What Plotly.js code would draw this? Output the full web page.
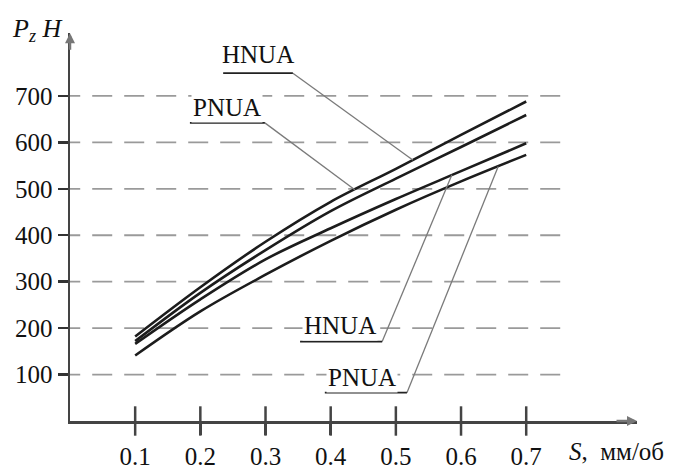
<!DOCTYPE html>
<html>
<head>
<meta charset="utf-8">
<script src="https://cdn.plot.ly/plotly-3.0.1.min.js"></script>
<style>html,body{margin:0;padding:0;background:#fff;}#chart{width:674px;height:469px;}</style>
</head>
<body>
<div id="chart"></div>
<script>
// Feed S, mm/rev
var feed = [0.1, 0.2, 0.3, 0.4, 0.5, 0.6, 0.7];
// Cutting force Pz, N (four curves, top to bottom)
var curveA = [182, 288, 386, 472, 543, 616, 688];
var curveB = [172, 276, 368, 452, 522, 590, 659];
var curveC = [166, 262, 348, 415, 478, 538, 598];
var curveD = [141, 236, 315, 388, 455, 516, 573];
// Tick values / labels
var xTicks = [0.1, 0.2, 0.3, 0.4, 0.5, 0.6, 0.7];
var xTickText = ['0.1', '0.2', '0.3', '0.4', '0.5', '0.6', '0.7'];
var yTicks = [100, 200, 300, 400, 500, 600, 700];
var yTickText = ['100', '200', '300', '400', '500', '600', '700'];
// Curve labels
var labelText = ['HNUA', 'PNUA', 'HNUA', 'PNUA'];

var serif = 'Times New Roman, Liberation Serif, DejaVu Serif, serif';
var curveColor = '#1c1c1c';
var axisColor = '#444';

function curve(y) {
  return {x: feed, y: y, type: 'scatter', mode: 'lines',
    line: {color: curveColor, width: 2.6, shape: 'spline', smoothing: 1},
    hoverinfo: 'skip', showlegend: false};
}

var traces = [curve(curveA), curve(curveB), curve(curveC), curve(curveD),
  {x: xTicks, y: xTicks.map(function(){return 0;}), type: 'scatter', mode: 'markers',
   marker: {symbol: 'line-ns', size: 21, line: {color: axisColor, width: 2.5}},
   cliponaxis: false, hoverinfo: 'skip', showlegend: false}];

// label layout (positions in data units): text centre, underline start/end, leader end on curve
var labelLayout = [
  {tx: 0.288, ty: 790, ux0: 0.235, ux1: 0.342, uy: 749, ex: 0.526, ey: 562},
  {tx: 0.241, ty: 676, ux0: 0.184, ux1: 0.299, uy: 642, ex: 0.437, ey: 498},
  {tx: 0.414, ty: 205, ux0: 0.353, ux1: 0.479, uy: 171, ex: 0.586, ey: 530},
  {tx: 0.448, ty: 94,  ux0: 0.391, ux1: 0.517, uy: 61,  ex: 0.657, ey: 548}
];

var shapes = [];
yTicks.forEach(function(v){
  shapes.push({type: 'line', xref: 'x', yref: 'y', x0: -0.015, x1: 0.764, y0: v, y1: v,
    line: {color: '#9a9a9a', width: 1.8, dash: '20px,12px'}, layer: 'below'});
});
var annotations = [];
labelLayout.forEach(function(p, i){
  shapes.push({type: 'line', xref: 'x', yref: 'y', x0: p.ux1, y0: p.uy, x1: p.ex, y1: p.ey,
    line: {color: '#7a7a7a', width: 1.3}});
  annotations.push({xref: 'x', yref: 'y', x: p.tx, y: p.ty, text: labelText[i], showarrow: false,
    font: {family: serif, size: 25, color: '#111'}, bgcolor: 'white', borderpad: 1,
    xanchor: 'center', yanchor: 'middle'});
  shapes.push({type: 'line', xref: 'x', yref: 'y', x0: p.ux0, y0: p.uy, x1: p.ux1, y1: p.uy,
    line: {color: '#222', width: 1.8}});
});

// axis arrows
annotations.push({xref: 'x', yref: 'y', x: 0.87, y: 0, ax: -22, ay: 0, text: '', showarrow: true,
  arrowhead: 2, arrowsize: 0.8, arrowwidth: 2.5, arrowcolor: '#777'});
annotations.push({xref: 'x', yref: 'y', x: 0, y: 835, ax: 0, ay: 18, text: '', showarrow: true,
  arrowhead: 2, arrowsize: 0.8, arrowwidth: 2.5, arrowcolor: '#777'});
// axis titles
annotations.push({xref: 'paper', yref: 'paper', x: -0.058, y: 1.008, xanchor: 'center', yanchor: 'middle',
  text: '<i>P</i><sub><i>z</i></sub> <i>H</i>', showarrow: false, font: {family: serif, size: 26, color: '#111'}});
annotations.push({xref: 'paper', yref: 'paper', x: 0.963, y: -0.0785, xanchor: 'center', yanchor: 'middle',
  text: '<i>S</i>,  мм/об', showarrow: false, font: {family: serif, size: 25, color: '#111'}});

var layout = {
  width: 674, height: 469,
  margin: {l: 70, r: 37, t: 33, b: 47.5},
  paper_bgcolor: 'white', plot_bgcolor: 'white',
  showlegend: false,
  font: {family: serif},
  xaxis: {range: [0, 0.87], tickvals: xTicks, ticktext: xTickText, showgrid: false, zeroline: false,
    showline: true, linecolor: axisColor, linewidth: 2.5, ticks: 'outside', ticklen: 11,
    tickwidth: 2.5, tickcolor: axisColor, tickfont: {family: serif, size: 25, color: '#111'}},
  yaxis: {range: [0, 835.5], tickvals: yTicks, ticktext: yTickText, showgrid: false, zeroline: false,
    showline: true, linecolor: axisColor, linewidth: 2.5, ticks: 'outside', ticklen: 10,
    tickwidth: 2.5, tickcolor: '#333', tickfont: {family: serif, size: 25, color: '#111'}},
  shapes: shapes,
  annotations: annotations
};

Plotly.newPlot('chart', traces, layout, {staticPlot: true, displayModeBar: false});
</script>
</body>
</html>
